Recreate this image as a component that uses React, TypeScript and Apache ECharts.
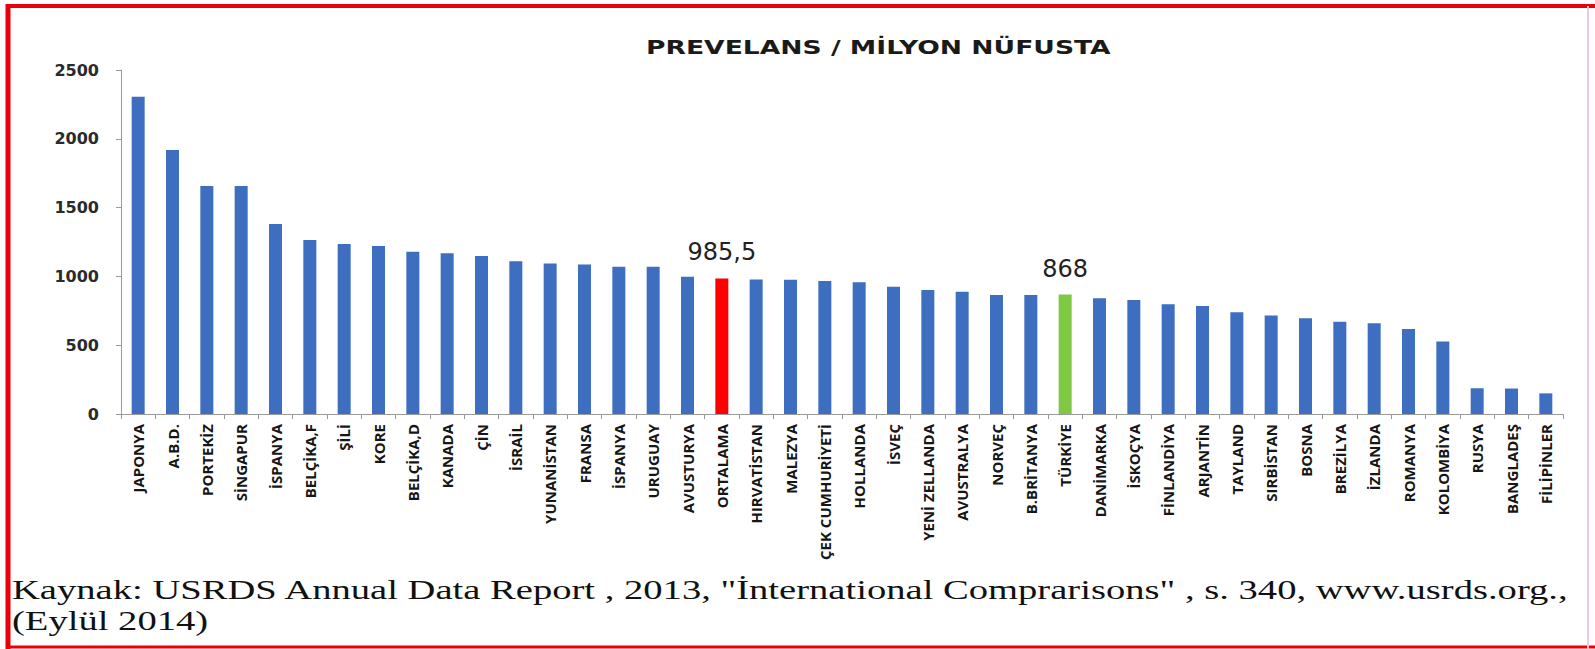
import React, { useEffect, useRef } from 'react';
import * as echarts from 'echarts';

const title = 'PREVELANS / MİLYON NÜFUSTA';
const sourceLine1 = 'Kaynak: USRDS Annual Data Report , 2013, "İnternational Comprarisons" , s. 340, www.usrds.org.,';
const sourceLine2 = '(Eylül 2014)';

const categories = [
  'JAPONYA', 'A.B.D.', 'PORTEKİZ', 'SİNGAPUR', 'İSPANYA', 'BELÇİKA,F', 'ŞİLİ', 'KORE',
  'BELÇİKA,D', 'KANADA', 'ÇİN', 'İSRAİL', 'YUNANİSTAN', 'FRANSA', 'İSPANYA', 'URUGUAY',
  'AVUSTURYA', 'ORTALAMA', 'HIRVATİSTAN', 'MALEZYA', 'ÇEK CUMHURİYETİ', 'HOLLANDA', 'İSVEÇ',
  'YENİ ZELLANDA', 'AVUSTRALYA', 'NORVEÇ', 'B.BRİTANYA', 'TÜRKİYE', 'DANİMARKA', 'İSKOÇYA',
  'FİNLANDİYA', 'ARJANTİN', 'TAYLAND', 'SIRBİSTAN', 'BOSNA', 'BREZİLYA', 'İZLANDA',
  'ROMANYA', 'KOLOMBİYA', 'RUSYA', 'BANGLADEŞ', 'FİLİPİNLER',
];

const values = [
  2306, 1919, 1657, 1657, 1381, 1265, 1235, 1221,
  1180, 1168, 1148, 1110, 1094, 1087, 1071, 1071,
  998, 985.5, 978, 975, 966, 957, 925,
  901, 889, 865, 865, 868, 841, 828,
  797, 785, 739, 715, 695, 671, 659,
  618, 526, 187, 185, 150,
];

// highlighted bars: category -> [colour, label]
const highlightNames = ['ORTALAMA', 'TÜRKİYE'];
const highlightColors = ['#ff0000', '#7ec843'];
const highlightLabels = ['985,5', '868'];

const yMin = 0;
const yMax = 2500;
const yInterval = 500;

const BLUE = '#3d6ebf';

function measure(text: string, font: string): number {
  const ctx = document.createElement('canvas').getContext('2d');
  if (!ctx) return 1;
  ctx.font = font;
  return ctx.measureText(text).width || 1;
}

export default function App() {
  const ref = useRef<HTMLDivElement>(null);

  useEffect(() => {
    if (!ref.current) return;
    const chart = echarts.init(ref.current, undefined, { renderer: 'svg' });

    const titleFont = "bold 19px 'DejaVu Sans'";
    const titleScale = 465 / measure(title, titleFont);
    const srcFont = "27px 'Liberation Serif'";
    const srcScale = 1559 / measure(sourceLine1, srcFont);

    const data = values.map((v, i) => {
      const h = highlightNames.indexOf(categories[i]);
      if (h < 0) return { value: v };
      return {
        value: v,
        itemStyle: { color: highlightColors[h] },
        label: {
          show: true,
          position: 'top',
          distance: 14,
          formatter: highlightLabels[h],
          fontFamily: 'DejaVu Sans',
          fontSize: 24,
          color: '#222222',
        },
      };
    });

    chart.setOption({
      animation: false,
      backgroundColor: '#ffffff',
      grid: { left: 121, right: 32, top: 70, bottom: 235, containLabel: false },
      xAxis: {
        type: 'category',
        data: categories,
        axisLine: { lineStyle: { color: '#9a9a9a', width: 1 } },
        axisTick: { show: true, length: 5, lineStyle: { color: '#9a9a9a' } },
        axisLabel: {
          rotate: 90,
          interval: 0,
          margin: 10,
          fontFamily: 'Open Sans',
          fontWeight: 'bold',
          fontSize: 15,
          color: '#161616',
        },
      },
      yAxis: {
        type: 'value',
        min: yMin,
        max: yMax,
        interval: yInterval,
        axisLine: { show: true, lineStyle: { color: '#9a9a9a', width: 1 } },
        axisTick: { show: true, length: 5, lineStyle: { color: '#9a9a9a' } },
        splitLine: { show: false },
        axisLabel: {
          margin: 22,
          formatter: (v: number) => String(v),
          fontFamily: 'DejaVu Sans',
          fontWeight: 'bold',
          fontSize: 16,
          color: '#2a2a2a',
        },
      },
      series: [
        {
          type: 'bar',
          data,
          barWidth: 13,
          itemStyle: { color: BLUE },
        },
      ],
      graphic: [
        {
          type: 'text',
          x: 646,
          y: 47,
          scaleX: titleScale,
          style: {
            text: title,
            font: titleFont,
            fill: '#1a1a1a',
            align: 'left',
            verticalAlign: 'middle',
          },
        },
        {
          type: 'text',
          x: 12,
          y: 590,
          scaleX: srcScale,
          style: {
            text: sourceLine1,
            font: srcFont,
            fill: '#111111',
            align: 'left',
            verticalAlign: 'middle',
          },
        },
        {
          type: 'text',
          x: 12,
          y: 621,
          scaleX: srcScale,
          style: {
            text: sourceLine2,
            font: srcFont,
            fill: '#111111',
            align: 'left',
            verticalAlign: 'middle',
          },
        },
        // red frame
        { type: 'line', shape: { x1: 8, y1: 6, x2: 1595, y2: 6 }, style: { stroke: '#e8000b', lineWidth: 4 } },
        { type: 'line', shape: { x1: 8, y1: 4, x2: 8, y2: 649 }, style: { stroke: '#e8000b', lineWidth: 5 } },
        { type: 'line', shape: { x1: 6, y1: 647, x2: 1595, y2: 647 }, style: { stroke: '#e8000b', lineWidth: 3 } },
        { type: 'line', shape: { x1: 1588, y1: 6, x2: 1588, y2: 649 }, style: { stroke: '#f6c9d2', lineWidth: 2 } },
      ],
    });

    return () => chart.dispose();
  }, []);

  return (
    <div
      ref={ref}
      style={{ position: 'fixed', left: 0, top: 0, width: 1595, height: 649, background: '#fff' }}
    />
  );
}
